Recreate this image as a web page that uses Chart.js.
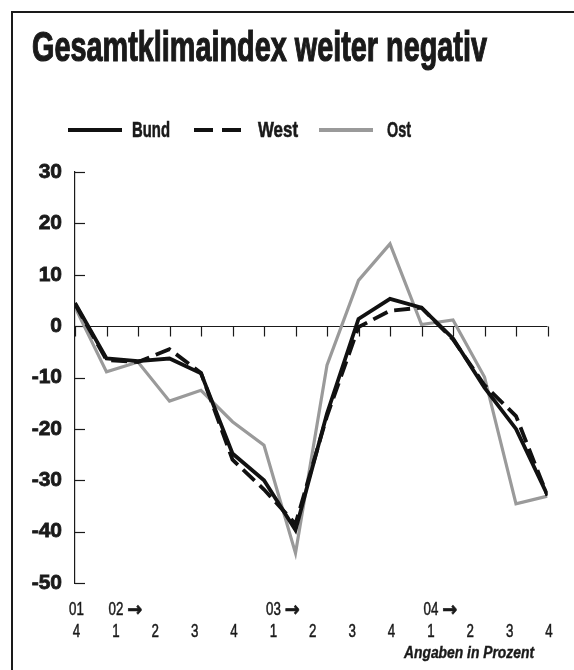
<!DOCTYPE html>
<html><head><meta charset="utf-8">
<script src="https://cdn.jsdelivr.net/npm/chart.js@4.4.1/dist/chart.umd.min.js"></script>
<style>
html,body{margin:0;padding:0;background:#fff;width:574px;height:670px;overflow:hidden;}
#wrap{position:relative;width:574px;height:670px;overflow:hidden;}
#frame{position:absolute;left:11px;top:11px;width:620px;height:720px;border-left:2.5px solid #1a1a1a;border-top:2.5px solid #1a1a1a;}
canvas{position:absolute;left:0;top:0;}
.t{position:absolute;white-space:nowrap;transform-origin:0 0;font-family:"Liberation Sans",Arial,sans-serif;font-weight:bold;color:#1a1a1a;display:inline-block;-webkit-text-stroke:0.6px #1a1a1a;}
.ln{position:absolute;height:4px;}
</style></head>
<body><div id="wrap">
<div id="frame"></div>
<canvas id="c" width="574" height="670"></canvas>
<div class="t" id="title" style="font-size:42px;line-height:42px;left:32px;top:26.4px;-webkit-text-stroke:1.2px #1a1a1a;">Gesamtklimaindex weiter negativ</div>
<div class="ln" style="left:68px;top:128px;width:54px;background:#111;"></div>
<div class="t" id="lgBund" style="font-size:22px;line-height:22px;left:132px;top:118.7px;">Bund</div>
<div class="ln" style="left:194px;top:128px;width:19px;background:#111;"></div>
<div class="ln" style="left:222px;top:128px;width:19px;background:#111;"></div>
<div class="t" id="lgWest" style="font-size:22px;line-height:22px;left:258px;top:118.7px;">West</div>
<div class="ln" style="left:319px;top:128px;width:54px;background:#9a9a9a;"></div>
<div class="t" id="lgOst" style="font-size:22px;line-height:22px;left:387px;top:118.7px;">Ost</div>
<div class="t" id="note" style="font-size:16px;line-height:16px;left:404px;top:644.8px;font-style:italic;-webkit-text-stroke:0.4px #1a1a1a;">Angaben in Prozent</div>
</div>
<script>
// ---- data ----
const surveyIndex = [0,1,2,3,4,5,6,7,8,9,10,11,12,13,14,15];
const bund = [4.5,-6.3,-6.8,-6.3,-9.2,-24.8,-30,-39.7,-17,1.4,5.3,3.6,-2.4,-12,-20,-32.9];
const west = [4.3,-6.6,-7,-4.5,-9.1,-26,-31.8,-38.5,-17.5,-0.2,3,3.6,-2.6,-11.5,-17.5,-33];
const ost  = [3.7,-8.9,-7,-14.6,-12.5,-18.6,-23.2,-44.2,-7.6,8.9,16,0.3,1.2,-9.9,-34.6,-33.1];
const quarterLabels = ['4','1','2','3','4','1','2','3','4','1','2','3','4'];
const yearLabels = ['01','02','','','','03','','','','04','','',''];
const yearArrow = [false,true,false,false,false,true,false,false,false,true,false,false,false];
const yTicks = [30,20,10,0,-10,-20,-30,-40,-50];

function fit(id,w){const el=document.getElementById(id);const r=el.getBoundingClientRect().width;el.style.transform='scaleX('+(w/r)+')';}
fit('title',455); fit('lgBund',38); fit('lgWest',40); fit('lgOst',24); fit('note',130);

const toXY = arr => arr.map((v,i)=>({x:surveyIndex[i],y:v}));
const FONT = '"Liberation Sans", Arial, sans-serif';
function condText(ctx,text,px,py,sx,align,stroke){ctx.save();ctx.translate(px,py);ctx.scale(sx,1);ctx.textAlign=align;ctx.fillText(text,0,0);if(stroke){ctx.lineWidth=stroke;ctx.strokeText(text,0,0);}ctx.restore();}

const decor = {
  id:'decor',
  beforeDatasetsDraw(chart){
    const {ctx, scales:{x,y}} = chart;
    ctx.save();
    ctx.strokeStyle='#1a1a1a'; ctx.lineWidth=1.2;
    yTicks.forEach(v=>{const py=Math.round(y.getPixelForValue(v))+0.5;ctx.beginPath();ctx.moveTo(x.left,py);ctx.lineTo(x.left+10,py);ctx.stroke();});
    const y0=Math.round(y.getPixelForValue(0))+0.5;
    ctx.beginPath();ctx.moveTo(x.left,y0);ctx.lineTo(x.right,y0);ctx.stroke();
    surveyIndex.forEach(i=>{const px=Math.round(x.getPixelForValue(i))+0.5;ctx.beginPath();ctx.moveTo(px,y0);ctx.lineTo(px,y0+10);ctx.stroke();});
    ctx.restore();
  },
  afterDraw(chart){
    const {ctx, scales:{x}} = chart;
    ctx.save();
    ctx.fillStyle='#1a1a1a'; ctx.strokeStyle='#1a1a1a';
    ctx.textBaseline='alphabetic';
    const n=quarterLabels.length;
    const step=(surveyIndex[surveyIndex.length-1]-surveyIndex[0])/(n-1);
    quarterLabels.forEach((q,i)=>{
      const px=x.getPixelForValue(surveyIndex[0]+i*step)+1.5;
      ctx.font='18px '+FONT;
      condText(ctx,q,px,636.5,0.74,'center',0.5);
      if(yearLabels[i]){
        condText(ctx,yearLabels[i],px,615,0.74,'center',0.5);
        if(yearArrow[i]){
          const w=ctx.measureText(yearLabels[i]).width*0.74;
          ctx.font='bold 20px "DejaVu Sans"';
          condText(ctx,'\u2192',px+w/2+4,616,0.9,'left',0.6);
        }
      }
    });
    ctx.restore();
  }
};

new Chart(document.getElementById('c'),{
  type:'line',
  data:{datasets:[
    {label:'Bund',data:toXY(bund),borderColor:'#111',borderWidth:3.8,pointRadius:0,tension:0,borderJoinStyle:'miter'},
    {label:'West',data:toXY(west),borderColor:'#111',borderWidth:3.8,borderDash:[16,7],pointRadius:0,tension:0,borderJoinStyle:'miter'},
    {label:'Ost',data:toXY(ost),borderColor:'#9a9a9a',borderWidth:3.2,pointRadius:0,tension:0,borderJoinStyle:'miter'}
  ]},
  options:{
    responsive:false,animation:false,
    layout:{padding:{top:172,right:26.5,bottom:87,left:0}},
    plugins:{legend:{display:false},tooltip:{enabled:false},title:{display:false}},
    scales:{
      x:{type:'linear',min:0,max:15,display:false},
      y:{min:-50,max:30,
         afterFit(s){s.width=75;},
         ticks:{stepSize:10,padding:13,color:'#1a1a1a',textStrokeColor:'#1a1a1a',textStrokeWidth:0.8,font:{family:FONT,size:21,weight:'bold'}},
         grid:{drawOnChartArea:false,drawTicks:false},
         border:{display:true,color:'#1a1a1a',width:1.2}}
    }
  },
  plugins:[decor]
});
</script>
</body></html>
